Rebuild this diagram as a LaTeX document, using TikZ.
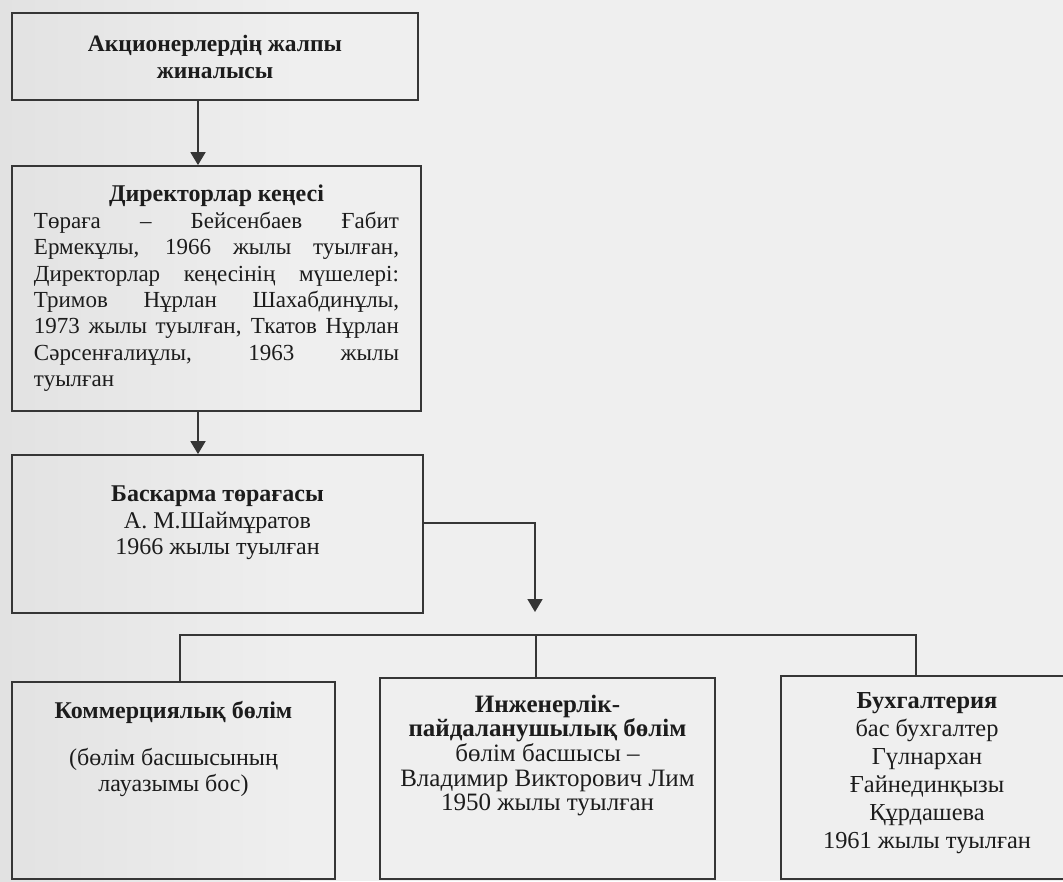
\documentclass[tikz,border=0pt]{standalone}
\usepackage{fontspec}
\setmainfont{Liberation Serif}
\usetikzlibrary{arrows.meta}
\definecolor{paper}{HTML}{EFEFEF}
\definecolor{paperdark}{HTML}{E2E2E2}
\definecolor{ink}{HTML}{363636}
\definecolor{print}{HTML}{1C1C1C}
\newcommand{\boxtext}[4]{\parbox[c][#2][#3]{#1}{\tolerance=10000\hyphenpenalty=10000 #4}}

\begin{document}
\begin{tikzpicture}[x=1pt,y=-1pt,
    unit/.style={draw=ink,line width=1.8pt,inner sep=0pt,text=print,
      font=\fontsize{24}{26.5}\selectfont},
    wire/.style={draw=ink,line width=1.8pt},
    arr/.style={wire,-{Triangle[width=15pt,length=13pt]}}]
  \useasboundingbox (0,0) rectangle (1063,881);
  \shade[left color=paperdark,right color=paper] (0,0) rectangle (300,881);
  \fill[paper] (300,0) rectangle (1063,881);
  \clip (0,0) rectangle (1063,881);

  \node[unit,font=\fontsize{23.5}{27}\selectfont] (meeting) at (215,56.5) {\boxtext{406pt}{87pt}{c}{\centering\bfseries
    Акционерлердің жалпы\\ жиналысы}};
  \node[unit,inner xsep=22pt,font=\fontsize{23}{26.4}\selectfont] (board) at (216.5,288.5) {\boxtext{365pt}{245pt}{c}{%
    \spaceskip=.25em plus 1em minus .1em
    {\centering\fontsize{24}{26.4}\selectfont\bfseries Директорлар кеңесі\par}
    Төраға – Бейсенбаев Ғабит\linebreak
    Ермекұлы, 1966 жылы туылған,\linebreak
    Директорлар кеңесінің мүшелері:\linebreak
    Тримов Нұрлан Шахабдинұлы,\linebreak
    1973 жылы туылған, Ткатов Нұрлан\linebreak
    Сәрсенғалиұлы, 1963 жылы\linebreak
    туылған}};
  \node[unit] (chair) at (217.5,534) {\boxtext{411pt}{158pt}{t}{\vspace*{31pt}\centering
    {\bfseries Баскарма төрағасы}\\ А. М.Шаймұратов\\ 1966 жылы туылған}};

  \node[unit,font=\fontsize{24}{25.5}\selectfont] (commerce) at (173.5,780.5) {\boxtext{323pt}{197pt}{t}{\vspace*{19pt}\centering
    {\bfseries Коммерциялық бөлім}\\[22pt] (бөлім басшысының\\ лауазымы бос)}};
  \node[unit,font=\fontsize{25}{24.6}\selectfont] (eng) at (547.5,778.5) {\boxtext{335pt}{201pt}{t}{\vspace*{17pt}\centering
    {\bfseries Инженерлік-\\ пайдаланушылық бөлім}\\ бөлім басшысы –\\
    Владимир Викторович Лим\\ 1950 жылы туылған}};
  \node[unit,font=\fontsize{24.4}{28}\selectfont] (acct) at (927,777.5) {\boxtext{292pt}{203pt}{t}{\vspace*{17pt}\centering
    {\bfseries Бухгалтерия}\\ бас бухгалтер\\ Гүлнархан\\ Ғайнединқызы\\ Құрдашева\\
    1961 жылы туылған}};

  \coordinate (stem) at (198,0);
  \draw[arr] (meeting.south -| stem) -- (board.north -| stem);
  \draw[arr] (board.south -| stem) -- (chair.north -| stem);
  \coordinate (drop) at (535,612);
  \draw[arr] ([yshift=11pt]chair.east) -| (drop);
  \coordinate (bus) at (536,635);
  \draw[wire] ([xshift=6.5pt]commerce.north) |- (bus) -| ([xshift=-11pt]acct.north);
  \draw[wire] (bus) -- (eng.north -| bus);
\end{tikzpicture}
\end{document}
